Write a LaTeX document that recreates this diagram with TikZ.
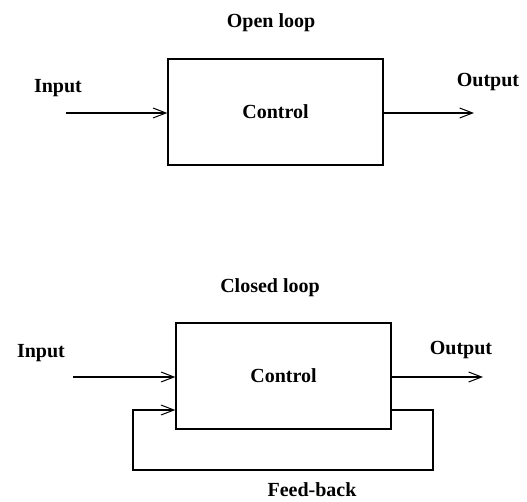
\documentclass[tikz,border=0pt]{standalone}
\usepackage{fontspec}
\setmainfont{Liberation Serif}
\usetikzlibrary{arrows.meta}
\begin{document}
\begin{tikzpicture}[x=1pt,y=-1pt,
  lbl/.style={font=\fontsize{20}{22}\selectfont\bfseries, inner sep=0pt},
  blockbox/.style={draw, line width=1.3pt, minimum width=215pt, minimum height=106pt, font=\fontsize{20}{22}\selectfont\bfseries},
  conn/.style={line width=1.2pt, -{Straight Barb[length=13pt,width=10pt,line width=1pt]}}]
\useasboundingbox (0,0) rectangle (527,502);
% open loop
\node[lbl] (t1) at (271,23) {Open loop};
\node[blockbox] (b1) at (275.5,112) {Control};
\node[lbl] (in1) at (58,88) {Input};
\node[lbl] (out1) at (488,82) {Output};
\coordinate (s1) at (66,113);
\coordinate (e1) at (474,113);
\draw[conn] (s1) -- (s1 -| b1.west);
\draw[conn] (e1 -| b1.east) -- (e1);
% closed loop
\node[lbl] (t2) at (270,288) {Closed loop};
\node[blockbox] (b2) at (283.5,376) {Control};
\node[lbl] (in2) at (41,353) {Input};
\node[lbl] (out2) at (461,350) {Output};
\node[lbl] (fb) at (312,490) {Feed-back};
\coordinate (s2) at (73,377);
\coordinate (e2) at (483,377);
\draw[conn] (s2) -- (s2 -| b2.west);
\draw[conn] (e2 -| b2.east) -- (e2);
\coordinate (fbR) at (433,470);
\coordinate (fbL) at (133,470);
\coordinate (fbY) at (0,410);
\draw[conn] (fbY -| b2.east) -- (fbY -| fbR) -- (fbR) -- (fbL) -- (fbY -| fbL) -- (fbY -| b2.west);
\end{tikzpicture}
\end{document}
